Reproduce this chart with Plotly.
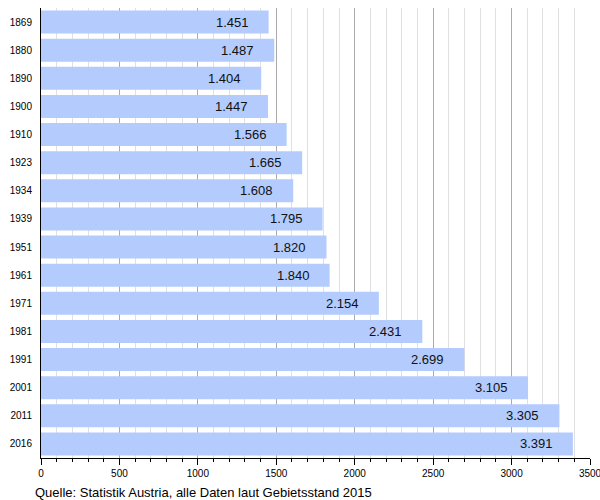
import plotly.graph_objects as go

years = ["1869", "1880", "1890", "1900", "1910", "1923", "1934", "1939",
         "1951", "1961", "1971", "1981", "1991", "2001", "2011", "2016"]
values = [1451, 1487, 1404, 1447, 1566, 1665, 1608, 1795,
          1820, 1840, 2154, 2431, 2699, 3105, 3305, 3391]
labels = ["1.451", "1.487", "1.404", "1.447", "1.566", "1.665", "1.608", "1.795",
          "1.820", "1.840", "2.154", "2.431", "2.699", "3.105", "3.305", "3.391"]
x_ticks = [0, 500, 1000, 1500, 2000, 2500, 3000, 3500]
source = "Quelle: Statistik Austria, alle Daten laut Gebietsstand 2015"

FONT = "Liberation Sans, Arial, sans-serif"

fig = go.Figure()
fig.add_trace(go.Bar(
    x=values, y=years, orientation="h",
    marker=dict(color="#b3cbfd", line=dict(width=0)),
    hoverinfo="skip",
))

# numeric-looking category names are read as indices by annotations, so use the index
for i, (v, t) in enumerate(zip(values, labels)):
    fig.add_annotation(x=v, y=i, text=t, showarrow=False, xanchor="right",
                       xshift=-18, font=dict(family=FONT, size=13, color="#111"))

fig.add_annotation(x=0, y=0, xref="paper", yref="paper", xanchor="left", yanchor="top",
                   text=source, showarrow=False, xshift=-8, yshift=-25,
                   font=dict(family=FONT, size=13, color="#000"))

fig.update_layout(
    width=600, height=500,
    margin=dict(l=41, r=10, t=8, b=42, autoexpand=False),
    paper_bgcolor="white", plot_bgcolor="white",
    bargap=0.18,
    showlegend=False,
    font=dict(family=FONT, size=10, color="#000"),
    xaxis=dict(
        range=[0, 3500], tickvals=x_ticks, showgrid=True, gridcolor="#aaaaaa",
        gridwidth=1, zeroline=False, showline=True, linecolor="#000", linewidth=1,
        ticks="outside", ticklen=6, tickcolor="#000", tickfont=dict(size=10),
        ticklabeloverflow="allow",
        minor=dict(dtick=100, showgrid=True, gridcolor="#e0e0e0", ticks="outside",
                   ticklen=3, tickcolor="#000"),
        fixedrange=True, automargin=False,
    ),
    yaxis=dict(
        type="category", categoryorder="array", categoryarray=years,
        autorange="reversed", showgrid=False, showline=True, linecolor="#000",
        linewidth=1, ticks="", tickfont=dict(size=10), ticklabelstandoff=6,
        fixedrange=True, automargin=False,
    ),
)

fig.write_html("out.html", config={"displayModeBar": False},
               post_script="document.body.style.margin='0';document.body.style.overflow='hidden';")
